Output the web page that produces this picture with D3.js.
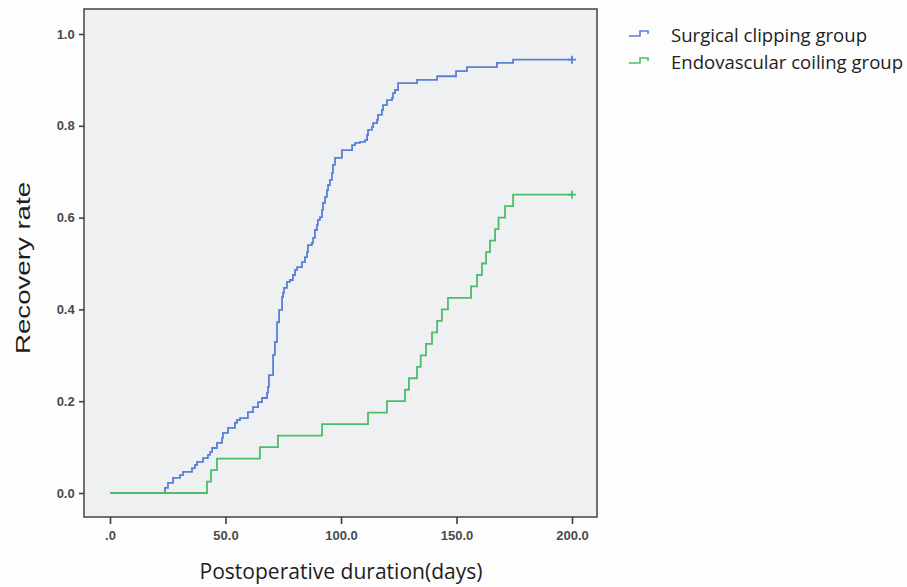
<!DOCTYPE html>
<html>
<head>
<meta charset="utf-8">
<script src="https://cdn.jsdelivr.net/npm/d3@7.8.5/dist/d3.min.js"></script>
<style>
  body { margin: 0; background: #fdfdfd; }
  svg { display: block; }
</style>
</head>
<body>
<svg width="907" height="587"></svg>
<script>
// cumulative recovery, step times (days) and rate after each step
const clipDays = [23.8, 25.1, 27.3, 30.3, 31.6, 35.5, 36.8, 37.7, 40.3, 42.4, 43.3, 44.2, 46.3, 48.5, 48.9,
  51.1, 54.1, 55.0, 56.3, 59.7, 61.9, 64.1, 65.8, 68.0, 68.4, 68.8, 70.6, 71.4, 72.3, 73.2, 74.5, 74.9,
  75.3, 76.6, 77.9, 79.2, 80.1, 81.0, 83.1, 84.4, 85.3, 85.7, 87.4, 87.9, 88.7, 89.6, 90.0, 90.9, 91.8,
  92.2, 93.1, 93.9, 94.4, 95.2, 96.1, 96.5, 97.4, 100.4, 104.8, 106.1, 108.2, 110.4, 111.3, 111.7, 113.4,
  113.9, 115.6, 116.0, 117.7, 118.2, 119.9, 122.1, 122.5, 123.4, 124.7, 132.9, 141.6, 149.8, 154.5,
  167.5, 174.5];
const clipRates = [0.011, 0.022, 0.033, 0.039, 0.046, 0.054, 0.061, 0.068, 0.076, 0.083, 0.089, 0.098, 0.109, 0.120, 0.131,
  0.142, 0.153, 0.159, 0.163, 0.176, 0.187, 0.198, 0.207, 0.218, 0.231, 0.257, 0.301, 0.329, 0.372, 0.399, 0.427, 0.436,
  0.447, 0.460, 0.464, 0.475, 0.486, 0.492, 0.503, 0.514, 0.525, 0.540, 0.545, 0.556, 0.573, 0.584, 0.595, 0.601, 0.617,
  0.632, 0.645, 0.660, 0.671, 0.682, 0.697, 0.715, 0.730, 0.747, 0.758, 0.763, 0.765, 0.769, 0.780, 0.791, 0.797,
  0.806, 0.813, 0.824, 0.834, 0.845, 0.856, 0.861, 0.871, 0.878, 0.893, 0.900, 0.908, 0.919, 0.928,
  0.937, 0.944];

const coilDays = [42.0, 43.7, 46.3, 64.9, 72.7, 91.8, 111.7, 119.9, 127.7, 129.4, 132.9, 134.5, 136.8,
  139.4, 141.6, 143.7, 146.3, 156.3, 158.9, 161.0, 162.8, 164.5, 166.7, 168.2, 171.0, 174.5];
const coilRates = [0.025, 0.05, 0.075, 0.1, 0.125, 0.15, 0.175, 0.2, 0.225, 0.25, 0.275, 0.3, 0.325,
  0.35, 0.375, 0.4, 0.425, 0.45, 0.475, 0.5, 0.525, 0.55, 0.575, 0.6, 0.625, 0.65];

const lastDay = 200;
const xTicks = [0, 50, 100, 150, 200];
const xTickLabels = [".0", "50.0", "100.0", "150.0", "200.0"];
const yTicks = [0, 0.2, 0.4, 0.6, 0.8, 1.0];
const yTickLabels = ["0.0", "0.2", "0.4", "0.6", "0.8", "1.0"];

const groups = [
  { name: "Surgical clipping group", days: clipDays, rates: clipRates, color: "#5a7fd6", len: 196 },
  { name: "Endovascular coiling group", days: coilDays, rates: coilRates, color: "#4cbd6a", len: 232 },
];

const svg = d3.select("svg");
const box = { left: 84, top: 9, right: 597, bottom: 517 };

const x = d3.scaleLinear().domain([0, 200]).range([110, 572]);
const y = d3.scaleLinear().domain([0, 1]).range([493, 34]);

svg.append("rect")
  .attr("x", box.left).attr("y", box.top)
  .attr("width", box.right - box.left).attr("height", box.bottom - box.top)
  .attr("fill", "#eef0f1")
  .attr("stroke", "#4a4f55")
  .attr("stroke-width", 1.6);

// axes
const xAxis = d3.axisBottom(x).tickValues(xTicks)
  .tickFormat((d, i) => xTickLabels[i]).tickSize(7).tickSizeOuter(0);
const gx = svg.append("g").attr("transform", `translate(0,${box.bottom})`).call(xAxis);
gx.select(".domain").remove();

const yAxis = d3.axisLeft(y).tickValues(yTicks)
  .tickFormat((d, i) => yTickLabels[i]).tickSize(5).tickSizeOuter(0);
const gy = svg.append("g").attr("transform", `translate(${box.left},0)`).call(yAxis);
gy.select(".domain").remove();

svg.selectAll(".tick line").attr("stroke", "#3a3f44").attr("stroke-width", 1.6);
svg.selectAll(".tick text")
  .attr("fill", "#4a4a4a")
  .style("font-family", "Liberation Sans, Arial, sans-serif")
  .style("font-weight", "bold")
  .style("font-size", "13px");
gx.selectAll(".tick text").attr("dy", "1.0em");
gy.selectAll(".tick text").attr("dx", "-0.1em");

// step curves
groups.forEach((g) => {
  const pts = [[0, 0]];
  g.days.forEach((d, i) => pts.push([d, g.rates[i]]));
  pts.push([lastDay, g.rates[g.rates.length - 1]]);
  const line = d3.line().x((p) => x(p[0])).y((p) => y(p[1])).curve(d3.curveStepAfter);
  svg.append("path")
    .attr("d", line(pts))
    .attr("fill", "none")
    .attr("stroke", g.color)
    .attr("stroke-width", 1.8);
  const cx = x(lastDay), cy = y(g.rates[g.rates.length - 1]);
  svg.append("path")
    .attr("d", `M${cx - 4},${cy}H${cx + 4}M${cx},${cy - 4}V${cy + 4}`)
    .attr("stroke", g.color)
    .attr("stroke-width", 1.8);
});

// legend
const legend = svg.append("g");
groups.forEach((g, i) => {
  const ly = 36 + i * 27;
  legend.append("path")
    .attr("d", `M629,${ly}H640V${ly - 5}H648V${ly - 2}`)
    .attr("fill", "none")
    .attr("stroke", g.color)
    .attr("stroke-width", 1.6);
  legend.append("text")
    .attr("x", 671).attr("y", ly + 6)
    .attr("fill", "#1e1e1e")
    .attr("textLength", g.len)
    .attr("lengthAdjust", "spacingAndGlyphs")
    .style("font-family", "Open Sans, sans-serif")
    .style("font-size", "18.5px")
    .text(g.name);
});

// axis titles
svg.append("text")
  .attr("x", 341).attr("y", 579)
  .attr("text-anchor", "middle")
  .attr("fill", "#1e1e1e")
  .attr("textLength", 283)
  .attr("lengthAdjust", "spacingAndGlyphs")
  .style("font-family", "Open Sans, sans-serif")
  .style("font-size", "21px")
  .text("Postoperative duration(days)");

svg.append("text")
  .attr("transform", "translate(30,268) rotate(-90)")
  .attr("text-anchor", "middle")
  .attr("fill", "#1e1e1e")
  .attr("textLength", 172)
  .attr("lengthAdjust", "spacingAndGlyphs")
  .style("font-family", "Liberation Sans, Arial, sans-serif")
  .style("font-size", "21px")
  .text("Recovery rate");
</script>
</body>
</html>
